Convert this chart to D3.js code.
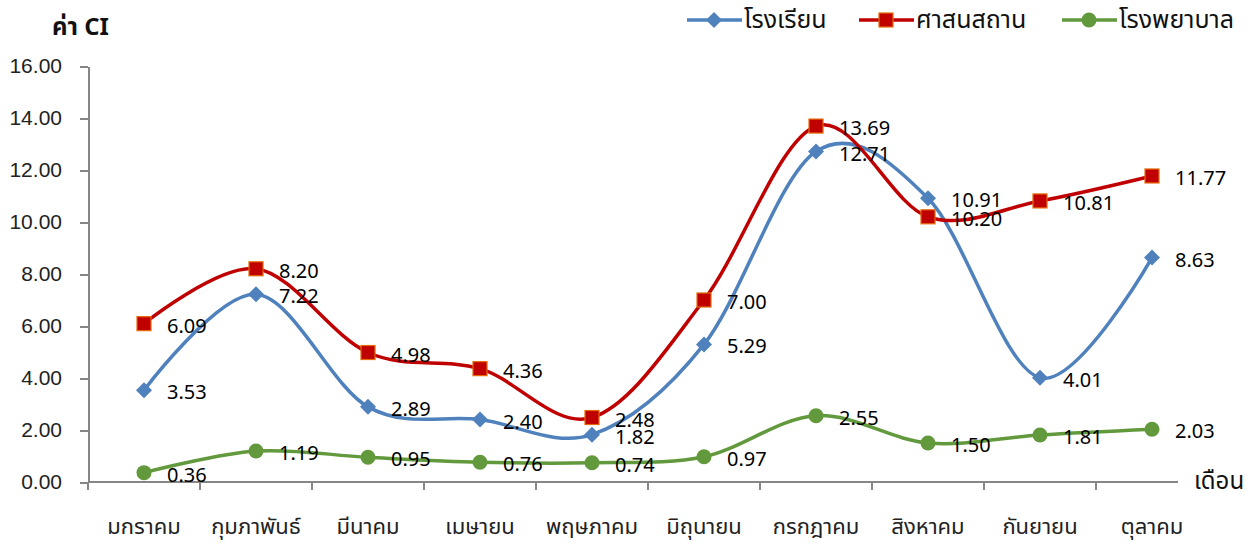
<!DOCTYPE html>
<meta charset="utf-8">
<head>
<style>
body { margin: 0; background: #fff; }
svg { display: block; font-family: Tahoma, "Noto Sans Thai", "DejaVu Sans", sans-serif; }
.axis path, .axis line { stroke: #868686; stroke-width: 2; fill: none; shape-rendering: crispEdges; }
.axis text { font-size: 21px; fill: #222; }
.xlab { font-size: 22px; fill: #222; }
.vlab { font-size: 20px; fill: #000; }
</style>
<script src="https://d3js.org/d3.v7.min.js"></script>
</head>
<body>
<svg id="plot" width="1260" height="545"></svg>
<script>

var months = ["มกราคม", "กุมภาพันธ์", "มีนาคม", "เมษายน", "พฤษภาคม", "มิถุนายน", "กรกฎาคม", "สิงหาคม", "กันยายน", "ตุลาคม"];
var school = [3.53, 7.22, 2.89, 2.40, 1.82, 5.29, 12.71, 10.91, 4.01, 8.63];
var temple = [6.09, 8.20, 4.98, 4.36, 2.48, 7.00, 13.69, 10.20, 10.81, 11.77];
var hospital = [0.36, 1.19, 0.95, 0.76, 0.74, 0.97, 2.55, 1.50, 1.81, 2.03];
var seriesNames = ["โรงเรียน", "ศาสนสถาน", "โรงพยาบาล"];
var yTicks = [0, 2, 4, 6, 8, 10, 12, 14, 16];

var svg = d3.select("svg");

var x = d3.scaleBand().domain(months).range([88, 1208]).padding(0);
var y = d3.scaleLinear().domain([0, 16]).range([482, 66]);

var series = [
  {name: seriesNames[0], values: school, color: "#4F81BD", marker: "diamond"},
  {name: seriesNames[1], values: temple, color: "#C00000", marker: "square"},
  {name: seriesNames[2], values: hospital, color: "#62993C", marker: "circle"}
];

// y axis
svg.append("g")
    .attr("class", "axis")
    .attr("transform", "translate(88,0)")
    .call(d3.axisLeft(y).tickValues(yTicks).tickFormat(d3.format(".2f")).tickSize(8).tickSizeOuter(0).tickPadding(18));

// x axis line + boundary ticks
var gx = svg.append("g").attr("class", "axis");
gx.append("line").attr("x1", 88).attr("x2", 1208).attr("y1", y(0)).attr("y2", y(0));
var bounds = months.map(function(m){ return x(m); }).concat([x(months[months.length-1]) + x.bandwidth()]);
gx.selectAll(".bt").data(bounds).enter().append("line")
    .attr("x1", function(d){ return d; }).attr("x2", function(d){ return d; })
    .attr("y1", y(0)).attr("y2", y(0) + 8);

svg.selectAll(".xlab").data(months).enter().append("text")
    .attr("class", "xlab")
    .attr("x", function(d){ return x(d) + x.bandwidth()/2; })
    .attr("y", 527)
    .attr("text-anchor", "middle")
    .attr("dominant-baseline", "central")
    .text(function(d){ return d; });

// axis titles
svg.append("rect").attr("x", 1178).attr("y", 464).attr("width", 82).attr("height", 36).attr("fill", "#fff");
svg.append("text").attr("x", 1194).attr("y", 482).attr("dominant-baseline", "central")
    .style("font-size", "24px").attr("fill", "#111").text("เดือน");
svg.append("text").attr("x", 52).attr("y", 28).attr("dominant-baseline", "central")
    .style("font-size", "24px").style("font-weight", "bold").attr("fill", "#111").text("ค่า CI");

var line = d3.line()
    .x(function(d, i){ return x(months[i]) + x.bandwidth()/2; })
    .y(function(d){ return y(d); })
    .curve(d3.curveCatmullRom.alpha(0));

function drawMarker(sel, type, color) {
  if (type === "diamond") {
    sel.append("path").attr("d", "M0,-8L8,0L0,8L-8,0Z").attr("fill", color);
  } else if (type === "square") {
    sel.append("rect").attr("x", -7).attr("y", -7).attr("width", 14).attr("height", 14)
        .attr("fill", color).attr("stroke", "#E46C0A").attr("stroke-width", 1.2);
  } else {
    sel.append("circle").attr("r", 7.5).attr("fill", color);
  }
}

// draw lines in order: hospital, school, temple
[series[2], series[0], series[1]].forEach(function(s){
  svg.append("path").datum(s.values)
      .attr("d", line)
      .attr("fill", "none")
      .attr("stroke", s.color)
      .attr("stroke-width", 3.5);
});

series.forEach(function(s){
  var g = svg.append("g");
  g.selectAll(".mk").data(s.values).enter().append("g")
      .attr("transform", function(d, i){ return "translate(" + (x(months[i]) + x.bandwidth()/2) + "," + y(d) + ")"; })
      .each(function(){ drawMarker(d3.select(this), s.marker, s.color); });
});

series.forEach(function(s){
  svg.selectAll(null).data(s.values).enter().append("text")
      .attr("class", "vlab")
      .attr("x", function(d, i){ return x(months[i]) + x.bandwidth()/2 + 23; })
      .attr("y", function(d){ return y(d) + 3; })
      .attr("dominant-baseline", "central")
      .text(function(d){ return d3.format(".2f")(d); });
});

// legend
var legX = [687, 859, 1062];
series.forEach(function(s, i){
  var lg = svg.append("g").attr("transform", "translate(" + legX[i] + ",20)");
  lg.append("line").attr("x1", 0).attr("x2", 55).attr("y1", 0).attr("y2", 0)
      .attr("stroke", s.color).attr("stroke-width", 3.5);
  var mk = lg.append("g").attr("transform", "translate(27,0)");
  drawMarker(mk, s.marker, s.color);
  lg.append("text").attr("x", 57).attr("y", 0).attr("dominant-baseline", "central")
      .style("font-size", "25px").attr("fill", "#111").text(s.name);
});

</script>
</body>
